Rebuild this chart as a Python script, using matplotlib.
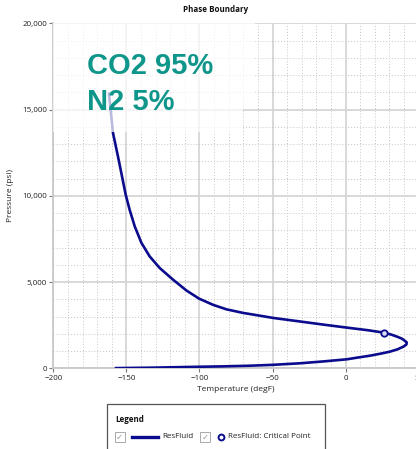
import matplotlib
matplotlib.use("Agg")
import matplotlib.pyplot as plt
import matplotlib.patches as mpatches
from matplotlib.lines import Line2D
from matplotlib.ticker import MultipleLocator, FuncFormatter

# phase envelope, read along the curve from the top of the bubble side,
# round the cricondentherm and back down the dew side
temp_degf = [-162, -160.8, -159.2, -155.8, -153.5, -150.5, -147.8, -144.3,
             -139.7, -134.1, -127.2, -118.1, -108.9, -100.3, -90.7, -81.6,
             -70.1, -58.7, -49.6, -31.3, -15, 0.7, 15, 26, 31, 35, 38.5,
             40.6, 41.8, 41.6, 39.5, 35.5, 30.3, 24, 16.6, 8, 0.7, -15,
             -31.3, -50, -65.5, -85, -100, -130, -158]
pressure_psi = [16000, 15000, 13660, 12300, 11340, 10076, 9200, 8230, 7270,
                6490, 5814, 5140, 4510, 4040, 3680, 3420, 3210, 3050, 2920,
                2715, 2530, 2360, 2210, 2070, 1960, 1840, 1720, 1590, 1500,
                1380, 1255, 1100, 965, 850, 730, 620, 520, 400, 290, 200,
                150, 110, 90, 40, 10]
crit_temp = [26]
crit_pres = [2070]

composition = ["CO2 95%", "N2 5%"]

W, H = 416, 449
NAVY = "#0b0b8e"
TEAL = "#0f968a"
UI_FONT = ["Open Sans", "DejaVu Sans"]

plt.rcParams["font.family"] = UI_FONT

fig = plt.figure(figsize=(W / 100, H / 100), dpi=100)


def fx(px):
    return px / W


def fy(py):
    return (H - py) / H


ax = fig.add_axes([fx(53.3), fy(368.3), (418.7 - 53.3) / W, (368.3 - 23.3) / H])
ax.set_xlim(-200, 50)
ax.set_ylim(0, 20000)

ax.xaxis.set_major_locator(MultipleLocator(50))
ax.xaxis.set_minor_locator(MultipleLocator(10))
ax.yaxis.set_major_locator(MultipleLocator(5000))
ax.yaxis.set_minor_locator(MultipleLocator(1000))
ax.yaxis.set_major_formatter(FuncFormatter(lambda v, p: f"{v:,.0f}"))

ax.grid(which="major", color="#d6d6d6", lw=1.3, ls="-", zorder=0)
ax.grid(which="minor", color="#c6c6c6", lw=0.7, ls=(0, (1, 2)), zorder=0)
ax.set_axisbelow(True)

for side in ("top", "right"):
    ax.spines[side].set_visible(False)
for side in ("left", "bottom"):
    ax.spines[side].set_color("#c8c8c8")
    ax.spines[side].set_linewidth(1.3)

ax.tick_params(which="major", length=3, width=0.8, color="#777777",
               labelsize=5.8, labelcolor="#222222", pad=1.5)
ax.tick_params(which="minor", length=0)

ax.set_xlabel("Temperature (degF)", fontsize=6, color="#222222", labelpad=3)
ax.set_ylabel("Pressure (psi)", fontsize=6, color="#222222", labelpad=6)

ax.plot(temp_degf, pressure_psi, color=NAVY, lw=1.9, zorder=3,
        solid_joinstyle="round", solid_capstyle="butt")
ax.plot(crit_temp, crit_pres, "o", ms=4.6, mfc="#dcdcf0", mec=NAVY, mew=1.3,
        zorder=4)

# translucent panel behind the composition label
ax.add_patch(mpatches.Rectangle((0, 0.751), 0.552, 0.249, transform=ax.transAxes,
                                facecolor="white", alpha=0.72, lw=0, zorder=5))
ax.add_patch(mpatches.Rectangle((0, 0.684), 0.519, 0.067, transform=ax.transAxes,
                                facecolor="white", alpha=0.72, lw=0, zorder=5))

fig.text(fx(87), fy(74), composition[0], fontsize=21, fontweight="bold",
         color=TEAL, family=["Liberation Sans", "DejaVu Sans"],
         ha="left", va="baseline", zorder=6)
fig.text(fx(87), fy(110), composition[1], fontsize=21, fontweight="bold",
         color=TEAL, family=["Liberation Sans", "DejaVu Sans"],
         ha="left", va="baseline", zorder=6)

fig.text(fx(216), fy(9.5), "Phase Boundary", fontsize=5.8, fontweight="bold",
         color="#111111", ha="center", va="center")

# legend panel along the bottom edge
fig.patches.append(mpatches.Rectangle((fx(106.7), fy(470)), (325 - 106.7) / W,
                                      (470 - 404.3) / H, transform=fig.transFigure,
                                      facecolor="white", edgecolor="#555555", lw=0.9))
fig.text(fx(115), fy(419), "Legend", fontsize=5.8, fontweight="bold",
         color="#111111", ha="left", va="center")

row_y = 437


def checkbox(px):
    fig.patches.append(mpatches.Rectangle((fx(px), fy(row_y + 5)), 10 / W, 10 / H,
                                          transform=fig.transFigure, facecolor="white",
                                          edgecolor="#aaaaaa", lw=0.7))
    fig.text(fx(px + 5), fy(row_y), "\u2713", fontsize=6, color="#999999",
             ha="center", va="center", family=["DejaVu Sans"])


checkbox(114.5)
fig.lines.append(Line2D([fx(131.7), fx(157.7)], [fy(row_y), fy(row_y)],
                        transform=fig.transFigure, color=NAVY, lw=2.4))
fig.text(fx(162.3), fy(row_y), "ResFluid", fontsize=5.8, color="#222222",
         ha="left", va="center")
checkbox(200)
fig.lines.append(Line2D([fx(220.7)], [fy(row_y)], transform=fig.transFigure,
                        marker="o", ms=4.2, mfc="white", mec=NAVY, mew=1.4))
fig.text(fx(228.3), fy(row_y), "ResFluid: Critical Point", fontsize=5.8,
         color="#222222", ha="left", va="center")

fig.savefig("out.png", dpi=100)
